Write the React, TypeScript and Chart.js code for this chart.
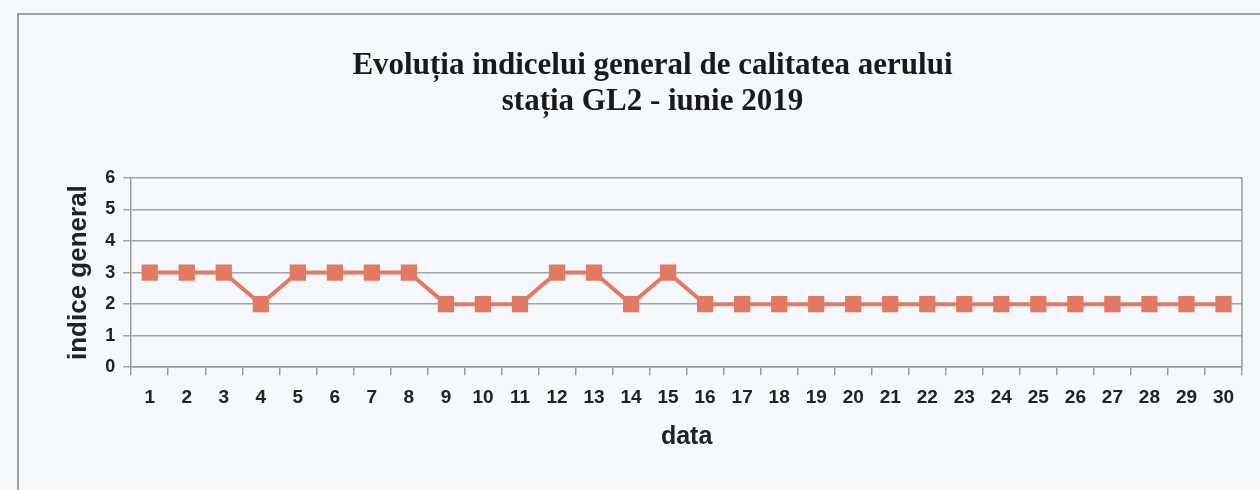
import React, { useEffect, useRef } from "react";
import { Chart, registerables } from "chart.js";

Chart.register(...registerables);

const days: string[] = Array.from({ length: 30 }, (_, i) => String(i + 1));
const indexValues: number[] = [3, 3, 3, 2, 3, 3, 3, 3, 2, 2, 2, 3, 3, 2, 3, 2, 2, 2, 2, 2, 2, 2, 2, 2, 2, 2, 2, 2, 2, 2];
const titleLines: string[] = ["Evoluția indicelui general de calitatea aerului", "stația GL2 - iunie 2019"];
const xTitle = "data";
const yTitle = "indice general";

const plotBorder = {
  id: "plotBorder",
  afterDraw(chart: any) {
    const { ctx, chartArea } = chart;
    ctx.save();
    ctx.strokeStyle = "#9a9a9a";
    ctx.lineWidth = 1.5;
    ctx.beginPath();
    ctx.moveTo(chartArea.right, chartArea.top);
    ctx.lineTo(chartArea.right, chartArea.bottom);
    ctx.stroke();
    ctx.restore();
  },
};

const sans = "'Liberation Sans', Arial, sans-serif";

export default function App() {
  const ref = useRef<HTMLCanvasElement>(null);
  useEffect(() => {
    document.body.style.margin = "0";
    const chart = new Chart(ref.current!, {
      type: "line",
      data: {
        labels: days,
        datasets: [
          {
            data: indexValues,
            borderColor: "#e27a63",
            backgroundColor: "#e27a63",
            borderWidth: 4,
            pointStyle: "rect",
            pointRadius: 11.5,
            pointBorderWidth: 0,
          },
        ],
      },
      options: {
        animation: false,
        responsive: false,
        layout: { padding: { top: 44, left: 63, right: 18, bottom: 38 } },
        plugins: {
          legend: { display: false },
          tooltip: { enabled: false },
          title: {
            display: true,
            text: titleLines,
            color: "#1a1a1a",
            font: { family: "'Liberation Serif', serif", size: 31, weight: "bold", lineHeight: 1.161 },
            padding: { top: 4, bottom: 58 },
          },
        },
        scales: {
          x: {
            offset: true,
            grid: { offset: true, drawOnChartArea: false, drawTicks: true, tickLength: 8, color: "#9a9a9a", lineWidth: 1.5 },
            border: { color: "#9a9a9a", width: 1.5 },
            ticks: {
              color: "#222",
              font: { family: sans, size: 19, weight: "bold" },
              padding: 11,
              maxRotation: 0,
              autoSkip: false,
            },
            title: {
              display: true,
              text: xTitle,
              color: "#222",
              font: { family: sans, size: 25, weight: "bold" },
              padding: { top: 2, bottom: 0 },
            },
          },
          y: {
            min: 0,
            max: 6,
            ticks: {
              stepSize: 1,
              color: "#222",
              font: { family: sans, size: 18, weight: "bold" },
              padding: 8,
            },
            grid: { color: "#a4a4a4", lineWidth: 1.5, tickLength: 8 },
            border: { color: "#9a9a9a", width: 1.5 },
            title: {
              display: true,
              text: yTitle,
              color: "#222",
              font: { family: sans, size: 26, weight: "bold" },
              padding: { top: 0, bottom: 3 },
            },
          },
        },
      },
      plugins: [plotBorder],
    });
    return () => chart.destroy();
  }, []);
  return (
    <div style={{ position: "relative", width: 1260, height: 490, background: "#f4f7fb" }}>
      <div
        style={{
          position: "absolute",
          left: 17,
          top: 13,
          right: 0,
          bottom: 0,
          borderTop: "2px solid #a0a0a0",
          borderLeft: "2px solid #a0a0a0",
        }}
      />
      <canvas ref={ref} width={1260} height={490} style={{ position: "absolute", left: 0, top: 0 }} />
    </div>
  );
}
